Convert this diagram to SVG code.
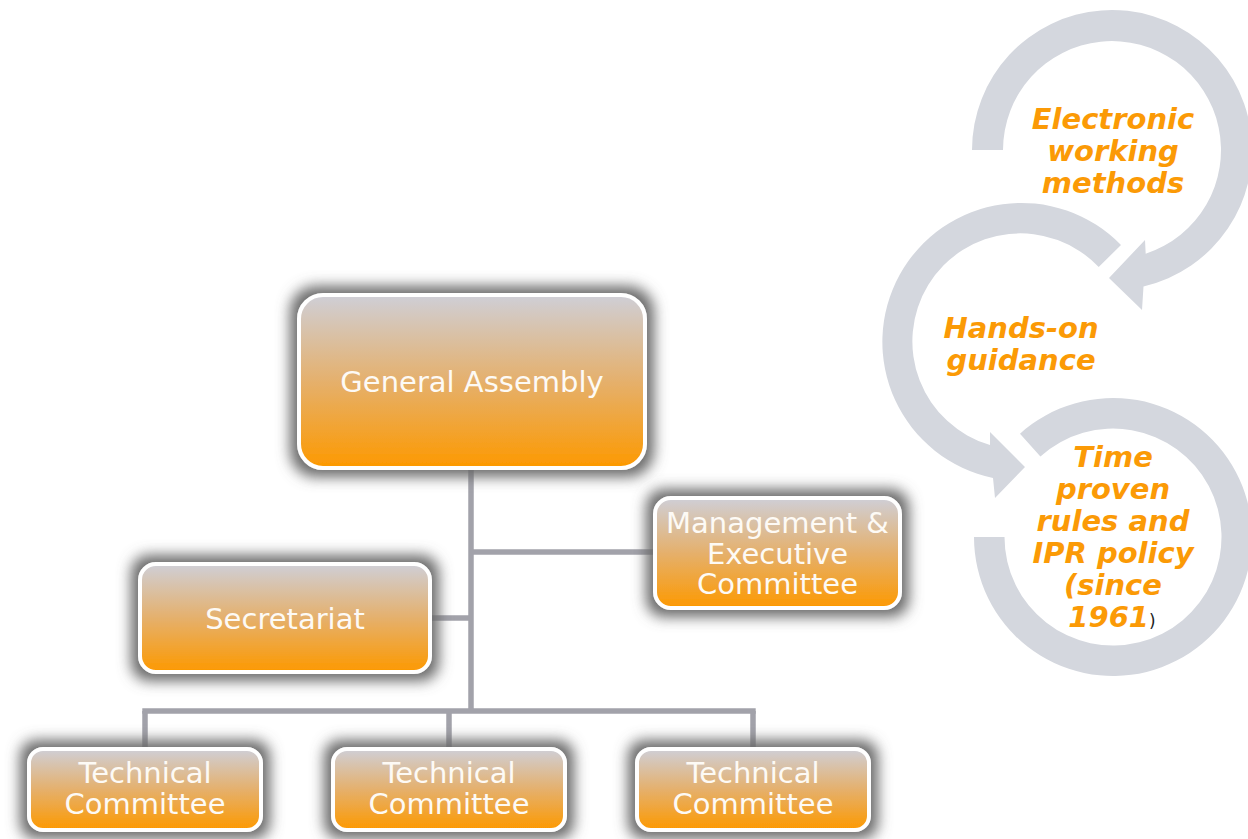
<svg xmlns="http://www.w3.org/2000/svg" width="1248" height="839" viewBox="0 0 1248 839">
<defs>
  <linearGradient id="boxGrad" x1="0" y1="0" x2="0" y2="1">
    <stop offset="0" stop-color="#cfcfd7"/>
    <stop offset="0.5" stop-color="#e5b06c"/>
    <stop offset="1" stop-color="#fd9900"/>
  </linearGradient>
  <filter id="glow" x="-30%" y="-40%" width="160%" height="180%">
    <feMorphology in="SourceAlpha" operator="dilate" radius="7" result="d"/>
    <feGaussianBlur in="d" stdDeviation="7" result="b"/>
    <feFlood flood-color="#6a6a6a" flood-opacity="1"/>
    <feComposite in2="b" operator="in" result="s"/>
    <feMerge><feMergeNode in="s"/><feMergeNode in="SourceGraphic"/></feMerge>
  </filter>
</defs>
<style>
  .box { fill: url(#boxGrad); stroke: #ffffff; stroke-width: 4; filter: url(#glow); }
  .lbl { font-family: "DejaVu Sans", Verdana, sans-serif; font-size: 29px; fill: #fdfaf5; text-anchor: middle; }
  .conn { stroke: #a2a2aa; stroke-width: 5.5; fill: none; }
  .ring { fill: #d4d7de; }
  .cyc { font-family: "DejaVu Sans", Verdana, sans-serif; font-size: 29px; font-weight: bold; font-style: italic; fill: #fb9a06; text-anchor: middle; }
</style>
<rect width="1248" height="839" fill="#ffffff"/>

<g id="cycle">
  <path class="ring" d="M 972,150 A 140,140 0 1 1 1143.5,286.4 L 1142,310 L 1109,278 L 1145,240 L 1145.7,253.7 A 109,109 0 1 0 1003,150 Z"/>
  <path class="ring" d="M 1121,245 A 139,139 0 1 0 993,478 L 995,498 L 1025,467 L 990,432 L 990,445 A 108,108 0 1 1 1098.7,267 Z"/>
  <path class="ring" d="M 1020,433.7 A 139,139 0 1 1 974,537 L 1004.5,537 A 108.5,108.5 0 1 0 1040.4,456.4 Z"/>
  <text class="cyc" x="1113" y="129">Electronic</text>
  <text class="cyc" x="1113" y="161">working</text>
  <text class="cyc" x="1113" y="193">methods</text>
  <text class="cyc" x="1021" y="338">Hands-on</text>
  <text class="cyc" x="1021" y="370">guidance</text>
  <text class="cyc" x="1113" y="467">Time</text>
  <text class="cyc" x="1113" y="499">proven</text>
  <text class="cyc" x="1113" y="531">rules and</text>
  <text class="cyc" x="1113" y="563">IPR policy</text>
  <text class="cyc" x="1113" y="595">(since</text>
  <text class="cyc" x="1112" y="627">1961<tspan font-weight="normal" font-style="normal" font-size="17px" fill="#222222">)</tspan></text>
</g>

<g id="connectors">
  <line class="conn" x1="471" y1="468" x2="471" y2="713"/>
  <line class="conn" x1="471" y1="552" x2="655" y2="552"/>
  <line class="conn" x1="430" y1="618" x2="471" y2="618"/>
  <line class="conn" x1="142.3" y1="711" x2="755.7" y2="711"/>
  <line class="conn" x1="145" y1="711" x2="145" y2="750"/>
  <line class="conn" x1="449" y1="711" x2="449" y2="750"/>
  <line class="conn" x1="753" y1="711" x2="753" y2="750"/>
</g>

<g id="general-assembly">
  <rect class="box" x="299" y="295" width="346" height="173" rx="24"/>
  <text class="lbl" x="472" y="392">General Assembly</text>
</g>
<g id="management">
  <rect class="box" x="655" y="498" width="245" height="110" rx="16"/>
  <text class="lbl" x="777.5" y="533">Management &amp;</text>
  <text class="lbl" x="777.5" y="564">Executive</text>
  <text class="lbl" x="777.5" y="594">Committee</text>
</g>
<g id="secretariat">
  <rect class="box" x="140" y="564" width="290" height="108" rx="16"/>
  <text class="lbl" x="285" y="629">Secretariat</text>
</g>
<g id="tc1">
  <rect class="box" x="29" y="749" width="232" height="81" rx="14"/>
  <text class="lbl" x="145" y="783">Technical</text>
  <text class="lbl" x="145" y="814">Committee</text>
</g>
<g id="tc2">
  <rect class="box" x="333" y="749" width="232" height="81" rx="14"/>
  <text class="lbl" x="449" y="783">Technical</text>
  <text class="lbl" x="449" y="814">Committee</text>
</g>
<g id="tc3">
  <rect class="box" x="637" y="749" width="232" height="81" rx="14"/>
  <text class="lbl" x="753" y="783">Technical</text>
  <text class="lbl" x="753" y="814">Committee</text>
</g>
</svg>
